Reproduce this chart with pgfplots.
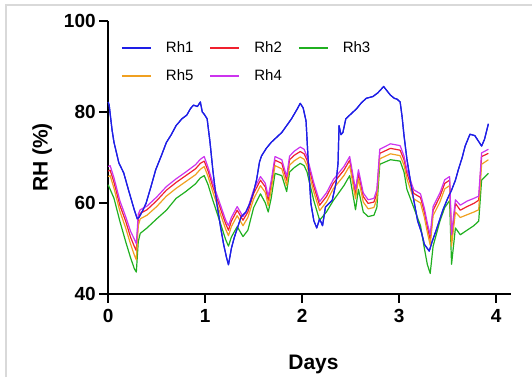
\documentclass[border=0pt]{standalone}
\usepackage{fontspec}
\setmainfont{Liberation Sans}
\usepackage{pgfplots}
\usepackage{pgfplotstable}
\pgfplotsset{compat=1.18}
\definecolor{cA}{HTML}{1E1EE6}
\definecolor{cB}{HTML}{F0202E}
\definecolor{cC}{HTML}{20B020}
\definecolor{cD}{HTML}{F0A020}
\definecolor{cE}{HTML}{CC33EE}

\pgfplotstableread{
x y
0.00 82.2
0.01 81.5
0.04 76.0
0.06 73.3
0.11 68.8
0.16 66.6
0.21 62.8
0.27 58.4
0.30 56.5
0.32 56.9
0.36 58.5
0.39 59.9
0.44 63.5
0.49 67.3
0.55 70.5
0.60 73.3
0.65 75.0
0.70 77.0
0.76 78.5
0.81 79.3
0.85 80.8
0.88 81.5
0.92 81.2
0.95 82.2
0.97 80.0
0.99 79.5
1.02 78.5
1.05 73.3
1.08 67.0
1.12 59.9
1.16 54.5
1.19 50.9
1.22 48.0
1.24 46.4
1.27 50.0
1.30 52.4
1.37 56.9
1.42 58.0
1.46 59.9
1.50 62.5
1.53 65.1
1.56 69.0
1.58 70.3
1.63 72.0
1.68 73.3
1.74 74.5
1.79 75.5
1.84 77.0
1.89 78.5
1.95 80.7
1.98 81.9
2.01 80.9
2.04 78.0
2.06 70.0
2.09 59.9
2.12 56.1
2.15 54.5
2.18 56.5
2.21 55.0
2.24 59.1
2.31 60.6
2.35 64.5
2.37 68.8
2.38 77.0
2.40 75.0
2.42 75.5
2.45 78.5
2.50 79.5
2.56 80.7
2.61 82.0
2.66 83.0
2.73 83.4
2.78 84.2
2.84 85.6
2.88 84.5
2.91 83.7
2.95 83.0
2.98 82.8
3.01 82.2
3.03 79.0
3.05 74.8
3.08 69.6
3.13 63.0
3.19 56.1
3.23 53.5
3.26 50.9
3.31 49.4
3.34 51.5
3.38 53.9
3.45 58.4
3.50 61.0
3.54 62.8
3.58 65.0
3.61 67.3
3.65 70.0
3.68 72.5
3.73 75.1
3.78 74.8
3.82 73.5
3.85 72.5
3.88 74.0
3.92 77.4
}\rhone

\pgfplotstableread{
x red mag ora grn
0.00 67.0 68.0 65.8 64.0
0.02 67.2 68.2 66.0 63.0
0.06 64.5 65.5 63.2 61.0
0.12 59.5 60.5 58.2 56.0
0.18 56.0 57.0 54.5 51.5
0.23 52.5 53.8 51.0 48.0
0.27 50.4 52.0 48.5 45.5
0.29 49.5 51.0 47.5 44.8
0.31 56.5 57.5 55.0 51.5
0.33 57.7 58.5 56.5 53.3
0.40 58.5 59.3 57.3 54.5
0.50 60.5 61.3 59.2 56.5
0.60 62.8 63.6 61.5 58.4
0.70 64.5 65.3 63.2 61.0
0.80 66.0 66.8 64.7 62.5
0.90 67.5 68.4 66.2 64.2
0.95 68.7 69.6 67.4 65.5
0.99 69.2 70.2 68.0 66.0
1.03 67.0 67.8 65.8 64.0
1.08 63.5 64.3 62.3 60.5
1.15 59.2 60.0 58.0 56.0
1.21 55.5 56.3 54.3 52.0
1.24 54.0 55.0 52.8 50.5
1.27 56.0 56.8 54.8 52.5
1.33 58.4 59.2 57.2 54.8
1.39 56.2 57.0 55.0 52.6
1.44 58.0 58.8 56.8 54.0
1.50 62.1 62.9 60.9 59.0
1.57 65.0 65.8 63.8 62.0
1.62 63.5 64.3 62.3 60.0
1.65 60.6 61.4 59.4 58.0
1.68 64.0 64.8 62.8 61.0
1.72 69.4 70.2 68.2 66.5
1.79 68.7 69.5 67.5 66.0
1.84 65.0 65.8 63.8 62.5
1.87 69.5 70.3 68.3 66.8
1.92 70.5 71.4 69.3 67.8
1.98 71.3 72.3 70.1 68.7
2.02 70.8 71.8 69.6 68.2
2.05 69.4 70.2 68.2 66.8
2.12 63.6 64.4 62.4 60.5
2.18 59.5 60.3 58.3 56.2
2.25 61.4 62.2 60.2 58.0
2.32 64.3 65.1 63.1 60.5
2.43 67.2 68.0 66.0 63.8
2.49 69.4 70.2 68.2 66.0
2.55 62.1 62.9 60.9 58.5
2.58 66.5 67.3 65.3 63.0
2.63 61.4 62.2 60.2 58.0
2.68 59.9 60.7 58.7 57.0
2.74 60.2 61.0 59.0 57.3
2.77 62.1 62.9 60.9 59.0
2.80 70.9 71.8 69.7 68.5
2.91 72.0 73.0 70.8 69.5
3.01 71.6 72.6 70.4 69.2
3.05 69.5 70.3 68.3 66.8
3.08 66.5 67.3 65.3 63.0
3.15 62.1 62.9 60.9 59.0
3.22 61.2 62.0 60.0 55.0
3.26 58.0 58.8 56.8 50.0
3.29 54.8 55.6 53.6 46.5
3.32 51.9 53.0 50.7 44.5
3.35 58.4 59.2 57.2 50.5
3.42 61.4 62.2 60.2 56.0
3.47 64.3 65.1 63.1 59.0
3.52 65.0 65.8 63.8 60.5
3.54 51.8 53.0 50.5 46.5
3.58 59.9 60.7 58.0 54.5
3.63 58.4 59.5 56.8 53.0
3.70 59.2 60.4 57.4 54.0
3.77 59.9 61.0 58.0 55.0
3.82 60.6 61.5 58.5 56.0
3.85 70.2 71.0 68.5 65.0
3.92 70.9 71.8 69.5 66.5
}\rhrest

\begin{document}
\begin{tikzpicture}[x=1pt,y=1pt]
\path[use as bounding box] (0,0) rectangle (532,-377);
\draw[color=black!15, line width=2pt] (6,-377) -- (6,-5) -- (532,-5);
\begin{axis}[
  at={(108.2pt,-293.9pt)}, anchor=south west,
  scale only axis, width=402.5pt, height=272.9pt,
  xmin=0, xmax=4.15, ymin=40, ymax=100,
  axis lines=left,
  x axis line style={-, line width=2.2pt},
  y axis line style={-, line width=2.2pt},
  xtick={0,1,2,3,4}, ytick={40,60,80,100},
  tick align=outside, major tick length=9pt,
  tick style={line width=2pt, black},
  /pgf/number format/assume math mode=true,
  ticklabel style={font=\fontsize{19}{19}\selectfont\bfseries},
  xticklabel style={yshift=-3pt},
  xlabel={Days}, ylabel={RH (\%)},
  xlabel style={font=\fontsize{21}{21}\selectfont\bfseries, at={(axis description cs:0.51,-0.2785)}, anchor=base},
  ylabel style={font=\fontsize{21}{21}\selectfont\bfseries, at={(axis description cs:-0.164,0.5)}, anchor=center},
  legend style={at={(axis description cs:0.024,0.94)}, anchor=north west, draw=none, fill=none,
    font=\fontsize{15}{15}\selectfont, /tikz/every even column/.append style={column sep=14pt}, row sep=12pt},
  legend columns=3,
  legend image code/.code={\draw[line width=1.8pt,#1] (0pt,0pt) -- (29pt,0pt); \path[draw=none] (29pt,0pt) -- (42pt,0pt);},
  every axis plot/.append style={line width=1.2pt, line join=round},
  clip=false,
]
\addplot[cA] table[x=x, y=y] {\rhone};
\addlegendentry{Rh1}
\addplot[cB] table[x=x, y=red] {\rhrest};
\addlegendentry{Rh2}
\addplot[cC] table[x=x, y=grn] {\rhrest};
\addlegendentry{Rh3}
\addplot[cD] table[x=x, y=ora] {\rhrest};
\addlegendentry{Rh5}
\addplot[cE] table[x=x, y=mag] {\rhrest};
\addlegendentry{Rh4}
\addplot[cA, forget plot] table[x=x, y=y] {\rhone};
\end{axis}
\end{tikzpicture}
\end{document}
